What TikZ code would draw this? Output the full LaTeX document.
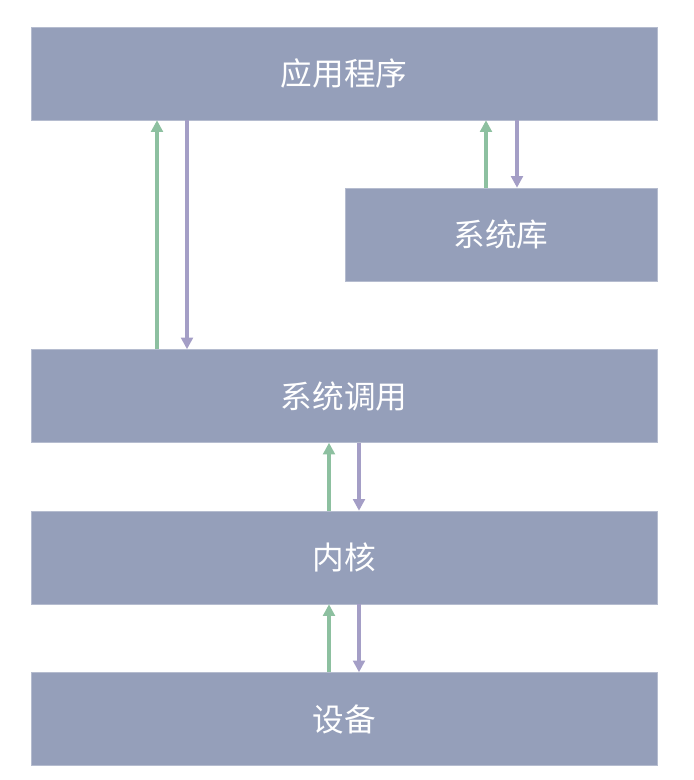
\documentclass[tikz,border=0pt]{standalone}
\usepackage{fontspec}
\newfontfamily\cjk{Noto Sans CJK SC}
\usetikzlibrary{arrows.meta,positioning}
\definecolor{boxblue}{HTML}{959FBA}
\definecolor{upgreen}{HTML}{8DC0A0}
\definecolor{downpurple}{HTML}{A49EC6}

\begin{document}
\begin{tikzpicture}[x=0.03cm, y=-0.03cm,
  layer/.style={fill=boxblue, draw=boxblue!70!white, line width=0.4pt,
    minimum height=2.79cm, inner sep=0pt, text=white,
    font=\cjk\fontsize{27}{32}\selectfont},
  upflow/.style={draw=upgreen, line width=3pt, -{Triangle[length=10pt,width=10pt]}},
  downflow/.style={draw=downpurple, line width=3pt, -{Triangle[length=10pt,width=10pt]}}]
  \useasboundingbox (0,0) rectangle (693,780);

  % 各层
  \node[layer, minimum width=18.78cm] (app) at (344,73.5) {应用程序};
  \node[layer, minimum width=9.36cm] (lib) at (501,234.5) {系统库};
  \node[layer, minimum width=18.78cm] (sys) at (344,396) {系统调用};
  \node[layer, minimum width=18.78cm] (kern) at (344,557.5) {内核};
  \node[layer, minimum width=18.78cm] (dev) at (344,719) {设备};

  % 箭头所在列
  \coordinate (c1) at (157,0);
  \coordinate (c2) at (187,0);
  \coordinate (c3) at (486,0);
  \coordinate (c4) at (517,0);
  \coordinate (c5) at (329,0);
  \coordinate (c6) at (359,0);

  % 应用程序 <-> 系统调用
  \draw[upflow] (sys.north -| c1) -- (app.south -| c1);
  \draw[downflow] (app.south -| c2) -- (sys.north -| c2);

  % 应用程序 <-> 系统库
  \draw[upflow] (lib.north -| c3) -- (app.south -| c3);
  \draw[downflow] (app.south -| c4) -- (lib.north -| c4);

  % 系统调用 <-> 内核
  \draw[upflow] (kern.north -| c5) -- (sys.south -| c5);
  \draw[downflow] (sys.south -| c6) -- (kern.north -| c6);

  % 内核 <-> 设备
  \draw[upflow] (dev.north -| c5) -- (kern.south -| c5);
  \draw[downflow] (kern.south -| c6) -- (dev.north -| c6);
\end{tikzpicture}
\end{document}
